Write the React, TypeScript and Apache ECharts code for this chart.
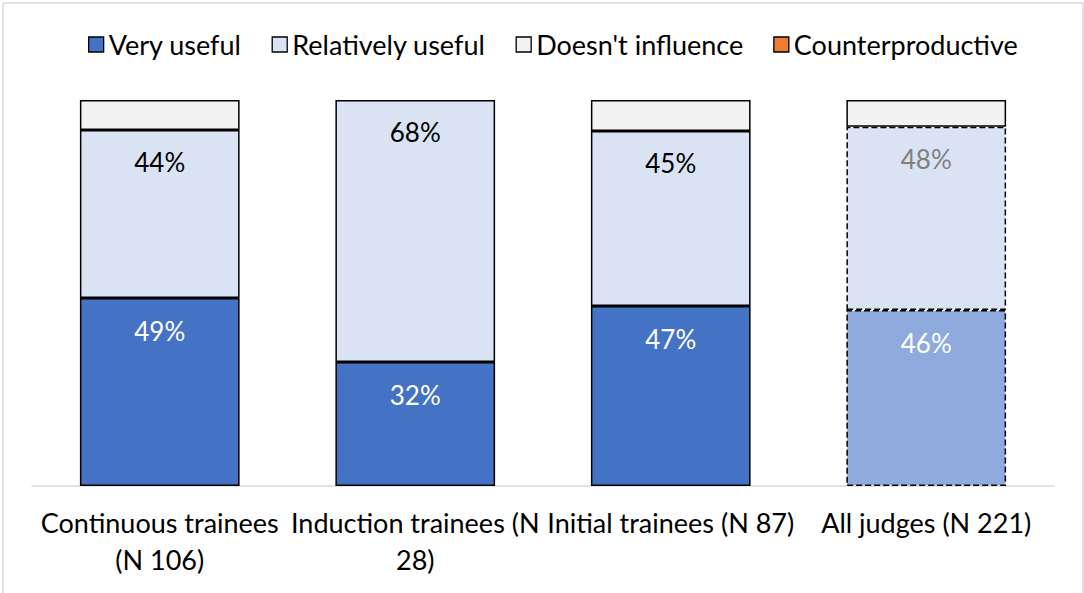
import React, { useEffect, useRef } from "react";
import * as echarts from "echarts";

const categories = [
  "Continuous trainees\n(N 106)",
  "Induction trainees (N\n28)",
  "Initial trainees (N 87)",
  "All judges (N 221)",
];
const veryUseful = [48.7, 32.1, 46.6, 45.6];
const relativelyUseful = [43.5, 67.9, 45.4, 47.5];
const doesntInfluence = [7.8, 0, 8.0, 6.9];
const counterproductive = [0, 0, 0, 0];
const highlightIndex = 3; // "All judges" bar drawn with dashed outline

const FONT = "Lato, 'Open Sans', sans-serif";

export default function App() {
  const ref = useRef<HTMLDivElement>(null);
  useEffect(() => {
    document.body.style.margin = "0";
    const chart = echarts.init(ref.current!, null, { renderer: "svg" });
    const fmt = (p: any) => Math.round(p.value) + "%";
    const nz = (v: number) => (v === 0 ? "-" : v);
    const vu = veryUseful.map((v, i) =>
      i === highlightIndex
        ? { value: v, itemStyle: { color: "#8FAADC", borderType: "dashed" } }
        : v
    );
    const ru = relativelyUseful.map((v, i) =>
      i === highlightIndex
        ? { value: v, itemStyle: { borderType: "dashed" }, label: { color: "#808080" } }
        : v
    );
    const base = {
      type: "bar",
      stack: "total",
      barCategoryGap: "37.5%",
    };
    chart.setOption({
      animation: false,
      textStyle: { fontFamily: FONT },
      graphic: [
        {
          type: "rect",
          shape: { x: 3, y: 3, width: 1080, height: 620 },
          style: { fill: "none", stroke: "#D9D9D9", lineWidth: 1.5 },
          silent: true,
        },
      ],
      legend: {
        top: 26,
        left: 83,
        itemWidth: 15,
        itemHeight: 15,
        itemGap: 30,
        icon: "rect",
        textStyle: { fontSize: 27, color: "#000", fontFamily: FONT },
        itemStyle: { borderColor: "#000", borderWidth: 1.3 },
        data: ["Very useful", "Relatively useful", "Doesn't influence", "Counterproductive"],
      },
      grid: { left: 32, right: 30, top: 100, bottom: 107, containLabel: false },
      xAxis: {
        type: "category",
        data: categories,
        axisLine: { lineStyle: { color: "#D9D9D9", width: 1.5 } },
        axisTick: { show: false },
        axisLabel: {
          color: "#000",
          fontSize: 27,
          lineHeight: 37,
          margin: 18,
          interval: 0,
          fontFamily: FONT,
        },
      },
      yAxis: { type: "value", min: 0, max: 100, show: false, splitLine: { show: false } },
      series: [
        {
          ...base,
          name: "Very useful",
          data: vu,
          itemStyle: { color: "#4472C4", borderColor: "#000", borderWidth: 1.5 },
          label: {
            show: true,
            position: "insideTop",
            distance: 20,
            color: "#fff",
            fontSize: 26,
            fontFamily: FONT,
            formatter: fmt,
          },
        },
        {
          ...base,
          name: "Relatively useful",
          data: ru,
          itemStyle: { color: "#DAE3F3", borderColor: "#000", borderWidth: 1.5 },
          label: {
            show: true,
            position: "insideTop",
            distance: 19,
            color: "#000",
            fontSize: 26,
            fontFamily: FONT,
            formatter: fmt,
          },
        },
        {
          ...base,
          name: "Doesn't influence",
          data: doesntInfluence.map(nz),
          itemStyle: { color: "#F2F2F2", borderColor: "#000", borderWidth: 1.5 },
        },
        {
          ...base,
          name: "Counterproductive",
          data: counterproductive.map(nz),
          itemStyle: { color: "#ED7D31", borderColor: "#000", borderWidth: 0 },
        },
      ],
    });
    return () => chart.dispose();
  }, []);
  return (
    <div
      ref={ref}
      style={{ position: "absolute", left: 0, top: 0, width: 1084, height: 593, background: "#fff" }}
    />
  );
}
